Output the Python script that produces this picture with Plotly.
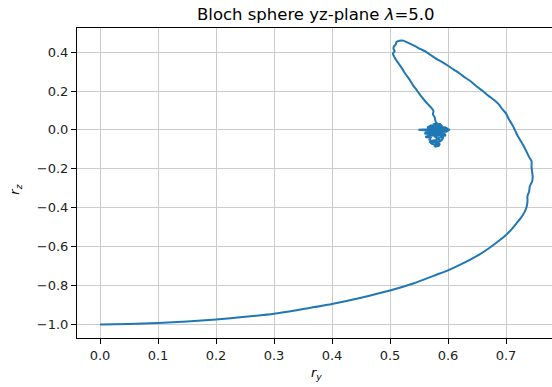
import plotly.graph_objects as go

# Transient part of the Bloch-vector trajectory on the yz-plane
path_y = [
    0.000, 0.050, 0.100, 0.150, 0.200, 0.250, 0.300, 0.350, 0.400, 0.450,
    0.500, 0.540, 0.580, 0.600, 0.630, 0.650, 0.670, 0.690, 0.700, 0.710,
    0.718, 0.725, 0.731, 0.735, 0.737, 0.737, 0.740, 0.741, 0.745, 0.746,
    0.745, 0.744, 0.744, 0.740, 0.735, 0.730, 0.725, 0.720, 0.716, 0.711,
    0.705, 0.700, 0.694, 0.688, 0.680, 0.670, 0.660, 0.650, 0.640, 0.630,
    0.620, 0.610, 0.600, 0.590, 0.580, 0.570, 0.560, 0.553, 0.545, 0.537,
    0.530, 0.523, 0.516, 0.511, 0.510, 0.507, 0.506, 0.508, 0.505, 0.507,
    0.510, 0.514, 0.518, 0.522, 0.526, 0.531, 0.536, 0.540, 0.546, 0.550,
    0.555, 0.560, 0.566, 0.571, 0.575, 0.574, 0.577, 0.578, 0.580,
]
path_z = [
    -1.000, -0.998, -0.993, -0.985, -0.975, -0.961, -0.945, -0.921, -0.895, -0.863,
    -0.826, -0.790, -0.745, -0.722, -0.680, -0.648, -0.610, -0.565, -0.540, -0.510,
    -0.480, -0.455, -0.428, -0.400, -0.370, -0.340, -0.315, -0.290, -0.265, -0.240,
    -0.215, -0.190, -0.160, -0.140, -0.110, -0.080, -0.055, -0.030, -0.005, 0.025,
    0.055, 0.085, 0.105, 0.130, 0.152, 0.175, 0.200, 0.222, 0.248, 0.268,
    0.290, 0.310, 0.330, 0.348, 0.365, 0.385, 0.405, 0.415, 0.428, 0.440,
    0.450, 0.459, 0.458, 0.451, 0.440, 0.430, 0.418, 0.405, 0.392, 0.378,
    0.362, 0.345, 0.328, 0.310, 0.290, 0.270, 0.248, 0.228, 0.205, 0.188,
    0.168, 0.150, 0.130, 0.115, 0.098, 0.080, 0.065, 0.050, 0.035,
]

# Fluctuations around the steady state
steady_y = [
    0.580, 0.574, 0.586, 0.590, 0.570, 0.564, 0.582, 0.596, 0.600, 0.584,
    0.566, 0.556, 0.549, 0.560, 0.572, 0.590, 0.603, 0.597, 0.580, 0.562,
    0.560, 0.576, 0.594, 0.596, 0.582, 0.566, 0.561, 0.570, 0.568, 0.572,
    0.580, 0.584, 0.592, 0.590, 0.586, 0.574, 0.568, 0.572, 0.580, 0.586,
    0.584, 0.578, 0.576, 0.582, 0.588, 0.582, 0.578, 0.586, 0.592, 0.586,
    0.578, 0.570, 0.576, 0.583, 0.588, 0.594, 0.590, 0.582, 0.574, 0.568,
    0.572, 0.580, 0.588, 0.584, 0.576, 0.568, 0.578, 0.586, 0.582, 0.578,
    0.584, 0.590, 0.578, 0.570, 0.576, 0.584,
]
steady_z = [
    0.035, 0.028, 0.030, 0.020, 0.022, 0.012, 0.016, 0.012, 0.004, 0.006,
    0.004, 0.002, 0.001, -0.002, -0.004, -0.002, 0.002, -0.010, -0.012, -0.010,
    -0.020, -0.018, -0.020, -0.030, -0.028, -0.030, -0.036, -0.040, -0.050, -0.056,
    -0.052, -0.040, -0.038, -0.050, -0.060, -0.064, -0.060, -0.072, -0.076, -0.070,
    -0.082, -0.086, -0.078, -0.066, -0.056, -0.046, -0.036, -0.024, -0.012, 0.000,
    0.008, 0.012, 0.024, 0.020, 0.010, 0.004, -0.008, -0.004, -0.010, -0.016,
    -0.026, -0.022, -0.030, -0.014, -0.002, 0.006, 0.014, 0.024, 0.032, 0.018,
    0.004, -0.020, -0.028, -0.022, -0.010, -0.006,
]

x_ticks = [0.0, 0.1, 0.2, 0.3, 0.4, 0.5, 0.6, 0.7]
x_tick_text = ["0.0", "0.1", "0.2", "0.3", "0.4", "0.5", "0.6", "0.7"]
y_ticks = [-1.0, -0.8, -0.6, -0.4, -0.2, 0.0, 0.2, 0.4]
y_tick_text = ["\u22121.0", "\u22120.8", "\u22120.6", "\u22120.4", "\u22120.2", "0.0", "0.2", "0.4"]

lam = 5.0

FONT = "DejaVu Sans"
TICK_COLOR = "#222222"
LINE_COLOR = "#1f77b4"

fig = go.Figure()
fig.add_trace(go.Scatter(
    x=path_y, y=path_z, mode="lines",
    line=dict(color=LINE_COLOR, width=2, shape="spline", smoothing=0.6),
    showlegend=False,
))
fig.add_trace(go.Scatter(
    x=steady_y, y=steady_z, mode="lines",
    line=dict(color=LINE_COLOR, width=2),
    showlegend=False,
))

axis_common = dict(
    showgrid=True, gridcolor="#cccccc", gridwidth=1,
    zeroline=False,
    showline=True, linecolor="#000000", linewidth=1,
    ticks="outside", ticklen=5, tickwidth=1, tickcolor="#000000",
    tickfont=dict(family=FONT, size=13, color=TICK_COLOR),
    tickmode="array",
)

fig.update_xaxes(
    **axis_common,
    tickvals=x_ticks, ticktext=x_tick_text,
    range=[-0.0397, 0.7793],
    mirror=True,
)
fig.update_yaxes(
    **axis_common,
    tickvals=y_ticks, ticktext=y_tick_text,
    range=[-1.070, 0.524],
)

fig.update_layout(
    width=552, height=387,
    margin=dict(l=77, r=0, t=28, b=49, pad=0),
    paper_bgcolor="white", plot_bgcolor="white",
    font=dict(family=FONT, color="#000000"),
    annotations=[
        dict(
            text=f"Bloch sphere yz-plane <i>\u03bb</i>={lam:.1f}",
            xref="paper", yref="paper", x=0.504, y=1.045,
            xanchor="center", yanchor="middle", showarrow=False,
            font=dict(family=FONT, size=16.5, color="#000000"),
        ),
        dict(
            text="<i>r<sub>y</sub></i>",
            xref="paper", yref="paper", x=0.504, y=-0.115,
            xanchor="center", yanchor="middle", showarrow=False,
            font=dict(family=FONT, size=13, color="#000000"),
        ),
        dict(
            text="<i>r<sub>z</sub></i>",
            xref="paper", yref="paper", x=-0.1295, y=0.48,
            xanchor="center", yanchor="middle", showarrow=False,
            textangle=-90,
            font=dict(family=FONT, size=13, color="#000000"),
        ),
    ],
)

fig.write_html("out.html")
